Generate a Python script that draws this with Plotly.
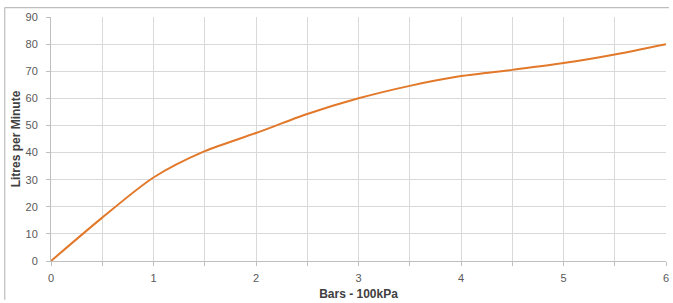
import plotly.graph_objects as go

pressure_bar = [0, 0.5, 1, 1.5, 2, 2.5, 3, 3.5, 4, 4.5, 5, 5.5, 6]
flow_lpm = [0, 16, 30.8, 40.5, 47.2, 54.2, 60, 64.6, 68.2, 70.5, 73, 76.2, 80]
x_grid = [0, 0.5, 1, 1.5, 2, 2.5, 3, 3.5, 4, 4.5, 5, 5.5, 6]
x_labels = ["0", "", "1", "", "2", "", "3", "", "4", "", "5", "", "6"]
y_ticks = [0, 10, 20, 30, 40, 50, 60, 70, 80, 90]

W, H = 673, 303
L, R, T, B = 51, 4, 17, 40
pw, ph = W - L - R, H - T - B

fig = go.Figure()
fig.add_trace(go.Scatter(
    x=pressure_bar, y=flow_lpm, mode="lines",
    line=dict(color="#E2792A", width=2, shape="spline", smoothing=0.8),
    hoverinfo="x+y", showlegend=False,
))

font_family = "Liberation Sans, Arial, sans-serif"
fig.update_layout(
    width=W, height=H,
    margin=dict(l=L, r=R, t=T, b=B),
    paper_bgcolor="white", plot_bgcolor="white",
    font=dict(family=font_family, size=11, color="#595959"),
    xaxis=dict(
        range=[0, 6], tickvals=x_grid, ticktext=x_labels,
        showgrid=True, gridcolor="#D9D9D9", gridwidth=1,
        showline=True, linecolor="#BFBFBF", linewidth=1,
        ticks="outside", ticklen=4, tickcolor="#BFBFBF",
        ticklabelstandoff=3,
        zeroline=False, fixedrange=True,
        title=dict(text="<b>Bars - 100kPa</b>", font=dict(size=12, color="#404040"), standoff=6),
    ),
    yaxis=dict(
        range=[0, 90], tickvals=y_ticks,
        showgrid=True, gridcolor="#D9D9D9", gridwidth=1,
        showline=True, linecolor="#BFBFBF", linewidth=1,
        ticks="outside", ticklen=4, tickcolor="#BFBFBF",
        ticklabelstandoff=6,
        zeroline=False, fixedrange=True,
        title=dict(text="<b>Litres per Minute</b>", font=dict(size=12, color="#404040"), standoff=2),
    ),
)

# outer chart-area frame (top and left edges visible in the reference)
fx0 = (4.5 - L) / pw
fx1 = (W - 1 - L) / pw
fy_top = 1 + (T - 7.5) / ph
fy_bot = -(B - 1) / ph
frame_line = dict(color="#BDBDBD", width=1.2)
fig.add_shape(type="line", xref="paper", yref="paper",
              x0=fx0, x1=fx1, y0=fy_top, y1=fy_top, line=frame_line)
fig.add_shape(type="line", xref="paper", yref="paper",
              x0=fx0, x1=fx0, y0=fy_top, y1=fy_bot, line=frame_line)

fig.write_html(
    "out.html",
    config={"displayModeBar": False},
    post_script="document.body.style.margin='0';document.body.style.overflow='hidden';",
)
